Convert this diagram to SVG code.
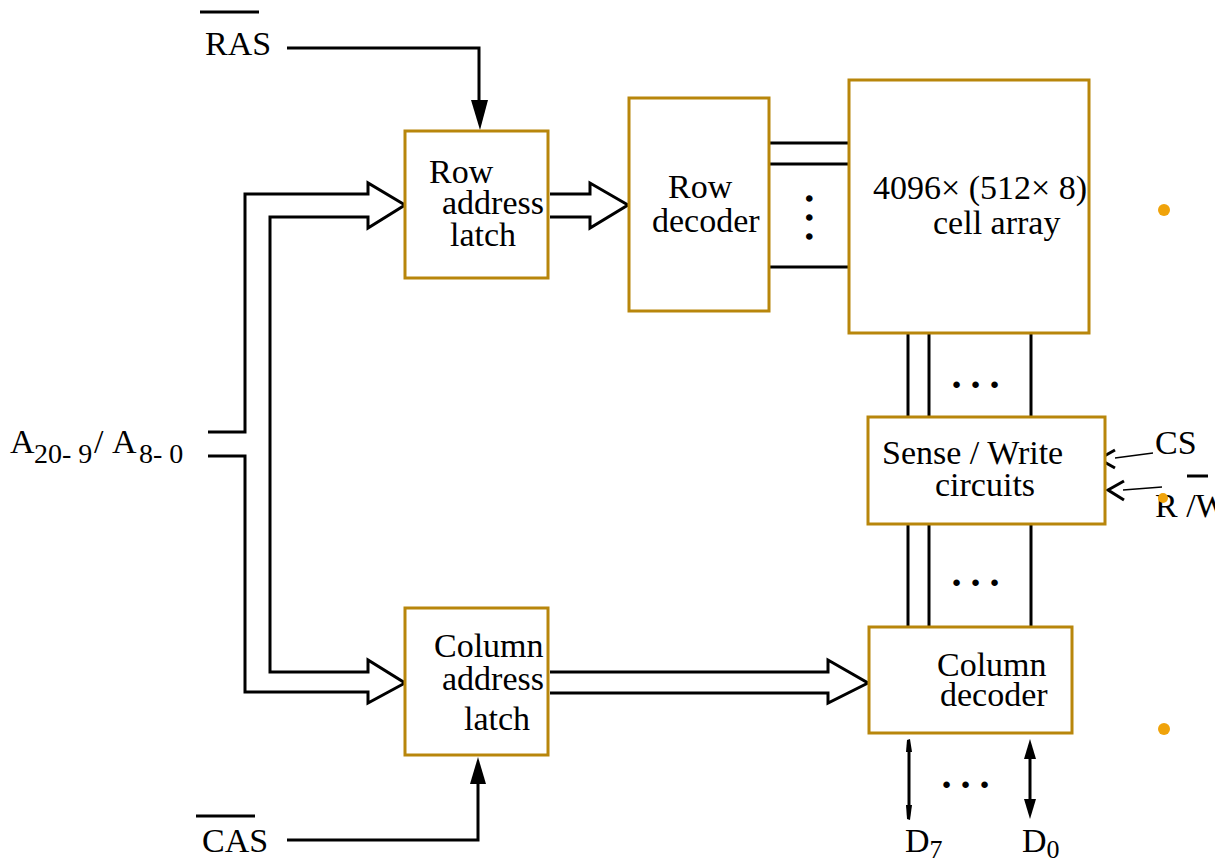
<svg xmlns="http://www.w3.org/2000/svg" width="1215" height="865" viewBox="0 0 1215 865">
<style>
.box{fill:#fff;stroke:#B8860B;stroke-width:3}
.ln{fill:none;stroke:#000;stroke-width:3}
.thin{fill:none;stroke:#000;stroke-width:1.3}
.hd{fill:#000;stroke:none}
.hollow{fill:none;stroke:#000;stroke-width:3;stroke-linejoin:miter;stroke-linecap:butt}
.t{font-family:"Liberation Serif","Times New Roman",serif;font-size:34px;fill:#000}
.sub{font-size:28px}
.dsub{font-size:26px}
.dots{font-family:"Liberation Serif",serif;font-size:40px;font-weight:bold;font-style:italic;fill:#000}
.bul{fill:#F0A30A}
</style>
<rect width="1215" height="865" fill="#fff"/>

<g id="connectors">
  <!-- RAS -->
  <polyline class="ln" points="287,48 479,48 479,104"/>
  <polygon class="hd" points="471,100 488,100 480,130"/>
  <!-- CAS -->
  <polyline class="ln" points="287,840 478,840 478,780"/>
  <polygon class="hd" points="470,784 486,784 478,757"/>
  <!-- address bus: both hollow arrows -->
  <path class="hollow" d="M208,432 H245 V194 H368 V183 L405,205 L368,228 V217 H270 V672 H368 V660 L405,683 L368,703 V692 H245 V456 H208"/>
  <!-- row latch to row decoder -->
  <path class="hollow" d="M550,194 H590 V183 L628,205 L590,228 V217 H550"/>
  <!-- column latch to column decoder -->
  <path class="hollow" d="M550,672 H828 V660 L868,683 L828,703 V693 H550"/>
  <!-- row decoder to cell array -->
  <line class="ln" x1="770" y1="143" x2="849" y2="143"/>
  <line class="ln" x1="770" y1="164" x2="849" y2="164"/>
  <line class="ln" x1="770" y1="267" x2="849" y2="267"/>
  <!-- cell array to sense -->
  <line class="ln" x1="908" y1="334" x2="908" y2="417"/>
  <line class="ln" x1="929" y1="334" x2="929" y2="417"/>
  <line class="ln" x1="1031" y1="334" x2="1031" y2="417"/>
  <!-- sense to column decoder -->
  <line class="ln" x1="908" y1="525" x2="908" y2="627"/>
  <line class="ln" x1="929" y1="525" x2="929" y2="627"/>
  <line class="ln" x1="1031" y1="525" x2="1031" y2="627"/>
  <!-- D lines -->
  <line class="ln" x1="909" y1="745" x2="909" y2="812"/>
  <polygon class="hd" points="906,752 912,752 910,739 907,740"/>
  <polygon class="hd" points="906,805 912,805 910,820 907,819"/>
  <line class="ln" x1="1030" y1="752" x2="1030" y2="806"/>
  <polygon class="hd" points="1024,759 1036,759 1030,739"/>
  <polygon class="hd" points="1024,799 1036,799 1030,819"/>
  <!-- CS, R/W -->
  <line class="thin" x1="1115" y1="458" x2="1153" y2="453"/>
  <polyline class="ln" points="1115,450 1099,459 1115,468"/>
  <line class="thin" x1="1123" y1="490" x2="1162" y2="487"/>
  <polyline class="ln" points="1124,481 1108,490 1124,500"/>
</g>

<g id="dots">
  <text class="dots" transform="translate(806,195) rotate(90)" letter-spacing="9">...</text>
  <text class="dots" x="953" y="388" letter-spacing="9">...</text>
  <text class="dots" x="953" y="586" letter-spacing="9">...</text>
  <text class="dots" x="943" y="788" letter-spacing="9">...</text>
</g>

<g id="row-address-latch">
  <rect class="box" x="405" y="131" width="143" height="147"/>
  <text class="t" x="429" y="183">Row</text>
  <text class="t" x="442" y="214">address</text>
  <text class="t" x="450" y="246">latch</text>
</g>
<g id="row-decoder">
  <rect class="box" x="629" y="98" width="140" height="213"/>
  <text class="t" x="668" y="198">Row</text>
  <text class="t" x="652" y="232">decoder</text>
</g>
<g id="cell-array">
  <rect class="box" x="849" y="80" width="240" height="253"/>
  <text class="t" x="873" y="199">4096× (512× 8)</text>
  <text class="t" x="933" y="234">cell array</text>
</g>
<g id="sense-write">
  <rect class="box" x="868" y="417" width="237" height="107"/>
  <text class="t" x="882" y="464">Sense / Write</text>
  <text class="t" x="935" y="496">circuits</text>
</g>
<g id="column-decoder">
  <rect class="box" x="869" y="627" width="203" height="106"/>
  <text class="t" x="937" y="676">Column</text>
  <text class="t" x="940" y="706">decoder</text>
</g>
<g id="column-address-latch">
  <rect class="box" x="405" y="608" width="143" height="147"/>
  <text class="t" x="434" y="657">Column</text>
  <text class="t" x="442" y="690">address</text>
  <text class="t" x="464" y="730">latch</text>
</g>

<g id="labels">
  <line x1="200" y1="12" x2="259" y2="12" stroke="#000" stroke-width="3"/>
  <text class="t" x="205" y="55">RAS</text>
  <line x1="196" y1="816" x2="255" y2="816" stroke="#000" stroke-width="3"/>
  <text class="t" x="202" y="852">CAS</text>
  <text class="t" x="10" y="453">A<tspan class="sub" x="34" dy="10">20- 9</tspan><tspan x="94" dy="-10">/</tspan><tspan x="112">A</tspan><tspan class="sub" x="139" dy="10">8- 0</tspan></text>
  <text class="t" x="1155" y="454">CS</text>
  <line x1="1187" y1="476" x2="1208" y2="476" stroke="#000" stroke-width="3"/>
  <text class="t" x="1155" y="517">R /W</text>
  <text class="t" x="905" y="852">D<tspan class="dsub" dy="6">7</tspan></text>
  <text class="t" x="1022" y="852">D<tspan class="dsub" dy="6">0</tspan></text>
</g>

<g id="bullets">
  <circle class="bul" cx="1164" cy="210" r="6"/>
  <circle class="bul" cx="1164" cy="729" r="6"/>
  <circle class="bul" cx="1163" cy="498" r="5"/>
</g>
</svg>
